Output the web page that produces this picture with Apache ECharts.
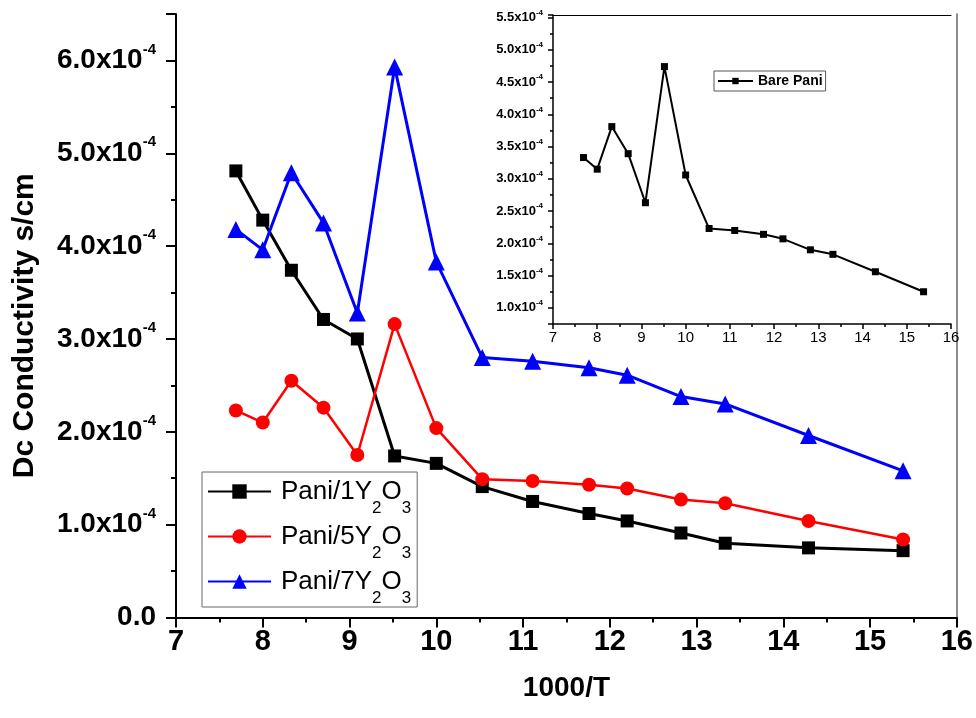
<!DOCTYPE html>
<html>
<head>
<meta charset="utf-8">
<script src="https://cdn.jsdelivr.net/npm/echarts@6/dist/echarts.min.js"></script>
<style>
  html, body { margin: 0; padding: 0; background: #fff; }
  #chart { width: 976px; height: 718px; }
</style>
</head>
<body>
<div id="chart"></div>
<script>
// 1000/T 取值
var xVals = [7.69, 8.0, 8.33, 8.70, 9.09, 9.52, 10.0, 10.53, 11.11, 11.76, 12.20, 12.82, 13.33, 14.29, 15.38]
// 主图三条曲线 (s/cm)
var pani1 = [4.81e-4, 4.28e-4, 3.74e-4, 3.21e-4, 3.00e-4, 1.74e-4, 1.66e-4, 1.41e-4, 1.25e-4, 1.12e-4, 1.04e-4, 0.91e-4, 0.80e-4, 0.75e-4, 0.72e-4]
var pani5 = [2.23e-4, 2.10e-4, 2.55e-4, 2.26e-4, 1.75e-4, 3.16e-4, 2.04e-4, 1.49e-4, 1.47e-4, 1.43e-4, 1.39e-4, 1.27e-4, 1.23e-4, 1.04e-4, 0.84e-4]
var pani7 = [4.18e-4, 3.96e-4, 4.79e-4, 4.25e-4, 3.28e-4, 5.93e-4, 3.83e-4, 2.80e-4, 2.76e-4, 2.69e-4, 2.61e-4, 2.38e-4, 2.30e-4, 1.96e-4, 1.58e-4]
// 插图
var bare = [3.33e-4, 3.15e-4, 3.81e-4, 3.39e-4, 2.63e-4, 4.74e-4, 3.06e-4, 2.23e-4, 2.20e-4, 2.14e-4, 2.07e-4, 1.90e-4, 1.83e-4, 1.56e-4, 1.25e-4]
var names = ['Pani/1Y2O3', 'Pani/5Y2O3', 'Pani/7Y2O3']

function pairs(ys) {
  return xVals.map(function (x, i) { return [x, ys[i]] })
}

var FONT = 'Liberation Sans, Arial, sans-serif'
var NARROW = 'Liberation Sans Narrow, Arial Narrow, Liberation Sans, sans-serif'

function sciLabel(v) {
  if (Math.abs(v) < 1e-12) return '{a|0.0}'
  return '{a|' + (v * 1e4).toFixed(1) + 'x10}{s|-4}'
}

var chart = echarts.init(document.getElementById('chart'))

var option = {
  animation: false,
  backgroundColor: '#fff',
  grid: [
    { left: 176, right: 18, top: 14, bottom: 100.5 },
    { left: 553, right: 25, top: 15, bottom: 394 }
  ],
  legend: [
    {
      data: names,
      orient: 'vertical',
      left: 202,
      top: 472,
      itemWidth: 63,
      itemHeight: 18,
      itemGap: -6,
      padding: [-6, 6, 0, 5],
      borderColor: '#666',
      borderWidth: 1,
      formatter: function (n) {
        return '{a|' + n.replace('Y2O3', '') + 'Y}{s|2}{a|O}{s|3}'
      },
      textStyle: {
        color: '#000',
        fontFamily: FONT,
        fontSize: 26,
        padding: [0, 0, 0, 5],
        rich: {
          a: { fontFamily: FONT, fontSize: 26, lineHeight: 30, color: '#000', verticalAlign: 'middle' },
          s: { fontFamily: FONT, fontSize: 17, lineHeight: 17, color: '#000', verticalAlign: 'middle', padding: [34, 0, 0, 0] }
        }
      }
    },
    {
      data: ['Bare Pani'],
      left: 714,
      top: 71,
      itemWidth: 35,
      itemHeight: 8,
      padding: [3, 3, 3, 3],
      borderColor: '#555',
      borderWidth: 1,
      textStyle: { color: '#000', fontFamily: FONT, fontSize: 14, fontWeight: 'bold' }
    }
  ],
  xAxis: [
    {
      gridIndex: 0,
      type: 'value',
      min: 7,
      max: 16,
      interval: 1,
      name: '1000/T',
      nameLocation: 'middle',
      nameGap: 57,
      nameTextStyle: { fontFamily: NARROW, fontSize: 28, fontWeight: 'bold', color: '#000', verticalAlign: 'top' },
      axisLine: { show: true, onZero: false, lineStyle: { color: '#000', width: 2 } },
      axisTick: { show: true, length: 10, lineStyle: { color: '#000', width: 2 } },
      minorTick: { show: true, splitNumber: 2, length: 5, lineStyle: { color: '#000', width: 2 } },
      axisLabel: { margin: 10, fontFamily: NARROW, fontSize: 29, fontWeight: 'bold', color: '#000' },
      splitLine: { show: false }
    },
    {
      gridIndex: 1,
      type: 'value',
      min: 7,
      max: 16,
      interval: 1,
      axisLine: { show: true, onZero: false, lineStyle: { color: '#000', width: 1.5 } },
      axisTick: { show: true, length: 5, lineStyle: { color: '#000', width: 1.5 } },
      minorTick: { show: true, splitNumber: 2, length: 3, lineStyle: { color: '#000', width: 1.5 } },
      axisLabel: { margin: 6, fontFamily: FONT, fontSize: 15, color: '#000' },
      splitLine: { show: false }
    },
    {
      // 插图上边框
      gridIndex: 1,
      type: 'value',
      position: 'top',
      min: 7,
      max: 16,
      axisLine: { show: true, onZero: false, lineStyle: { color: '#000', width: 1 } },
      axisTick: { show: false },
      axisLabel: { show: false },
      splitLine: { show: false }
    }
  ],
  yAxis: [
    {
      gridIndex: 0,
      type: 'value',
      min: 0,
      max: 6.5e-4,
      interval: 1e-4,
      name: 'Dc Conductivity s/cm',
      nameLocation: 'middle',
      nameGap: 136,
      nameTextStyle: { fontFamily: FONT, fontSize: 30, fontWeight: 'bold', color: '#000', padding: [0, 20, 0, 0] },
      axisLine: { show: true, onZero: false, lineStyle: { color: '#000', width: 2 } },
      axisTick: { show: true, length: 10, lineStyle: { color: '#000', width: 2 } },
      minorTick: { show: true, splitNumber: 2, length: 5, lineStyle: { color: '#000', width: 2 } },
      axisLabel: {
        margin: 20,
        showMaxLabel: false,
        formatter: sciLabel,
        rich: {
          a: { fontFamily: FONT, fontSize: 28, fontWeight: 'bold', color: '#000', lineHeight: 30, verticalAlign: 'middle' },
          s: { fontFamily: FONT, fontSize: 15, fontWeight: 'bold', color: '#000', lineHeight: 15, verticalAlign: 'middle', padding: [0, 0, 22, 0] }
        }
      },
      splitLine: { show: false }
    },
    {
      // 主图右边框
      gridIndex: 0,
      type: 'value',
      position: 'right',
      min: 0,
      max: 6.5e-4,
      axisLine: { show: true, onZero: false, lineStyle: { color: '#666', width: 1.5 } },
      axisTick: { show: false },
      axisLabel: { show: false },
      splitLine: { show: false }
    },
    {
      gridIndex: 1,
      type: 'value',
      min: 0.75e-4,
      max: 5.54e-4,
      splitNumber: 9,
      axisLine: { show: true, onZero: false, lineStyle: { color: '#000', width: 1.5 } },
      axisTick: { show: true, length: 5, lineStyle: { color: '#000', width: 1.5 } },
      minorTick: { show: true, splitNumber: 2, length: 3, lineStyle: { color: '#000', width: 1.5 } },
      axisLabel: {
        margin: 10,
        showMinLabel: false,
        showMaxLabel: false,
        formatter: sciLabel,
        rich: {
          a: { fontFamily: FONT, fontSize: 13, fontWeight: 'bold', color: '#000', lineHeight: 15, verticalAlign: 'middle' },
          s: { fontFamily: FONT, fontSize: 8, fontWeight: 'bold', color: '#000', lineHeight: 8, verticalAlign: 'middle', padding: [0, 0, 10, 0] }
        }
      },
      splitLine: { show: false }
    }
  ],
  series: [
    {
      name: names[0],
      type: 'line',
      xAxisIndex: 0,
      yAxisIndex: 0,
      data: pairs(pani1),
      symbol: 'rect',
      symbolSize: 13,
      lineStyle: { color: '#000', width: 3 },
      itemStyle: { color: '#000' }
    },
    {
      name: names[1],
      type: 'line',
      xAxisIndex: 0,
      yAxisIndex: 0,
      data: pairs(pani5),
      symbol: 'circle',
      symbolSize: 14,
      lineStyle: { color: '#ff0000', width: 2.5 },
      itemStyle: { color: '#ff0000' }
    },
    {
      name: names[2],
      type: 'line',
      xAxisIndex: 0,
      yAxisIndex: 0,
      data: pairs(pani7),
      symbol: 'triangle',
      symbolSize: 17,
      lineStyle: { color: '#0000ff', width: 3 },
      itemStyle: { color: '#0000ff' }
    },
    {
      name: 'Bare Pani',
      type: 'line',
      xAxisIndex: 1,
      yAxisIndex: 2,
      data: pairs(bare),
      symbol: 'rect',
      symbolSize: 7,
      lineStyle: { color: '#000', width: 2 },
      itemStyle: { color: '#000' }
    }
  ]
}

chart.setOption(option)
</script>
</body>
</html>
